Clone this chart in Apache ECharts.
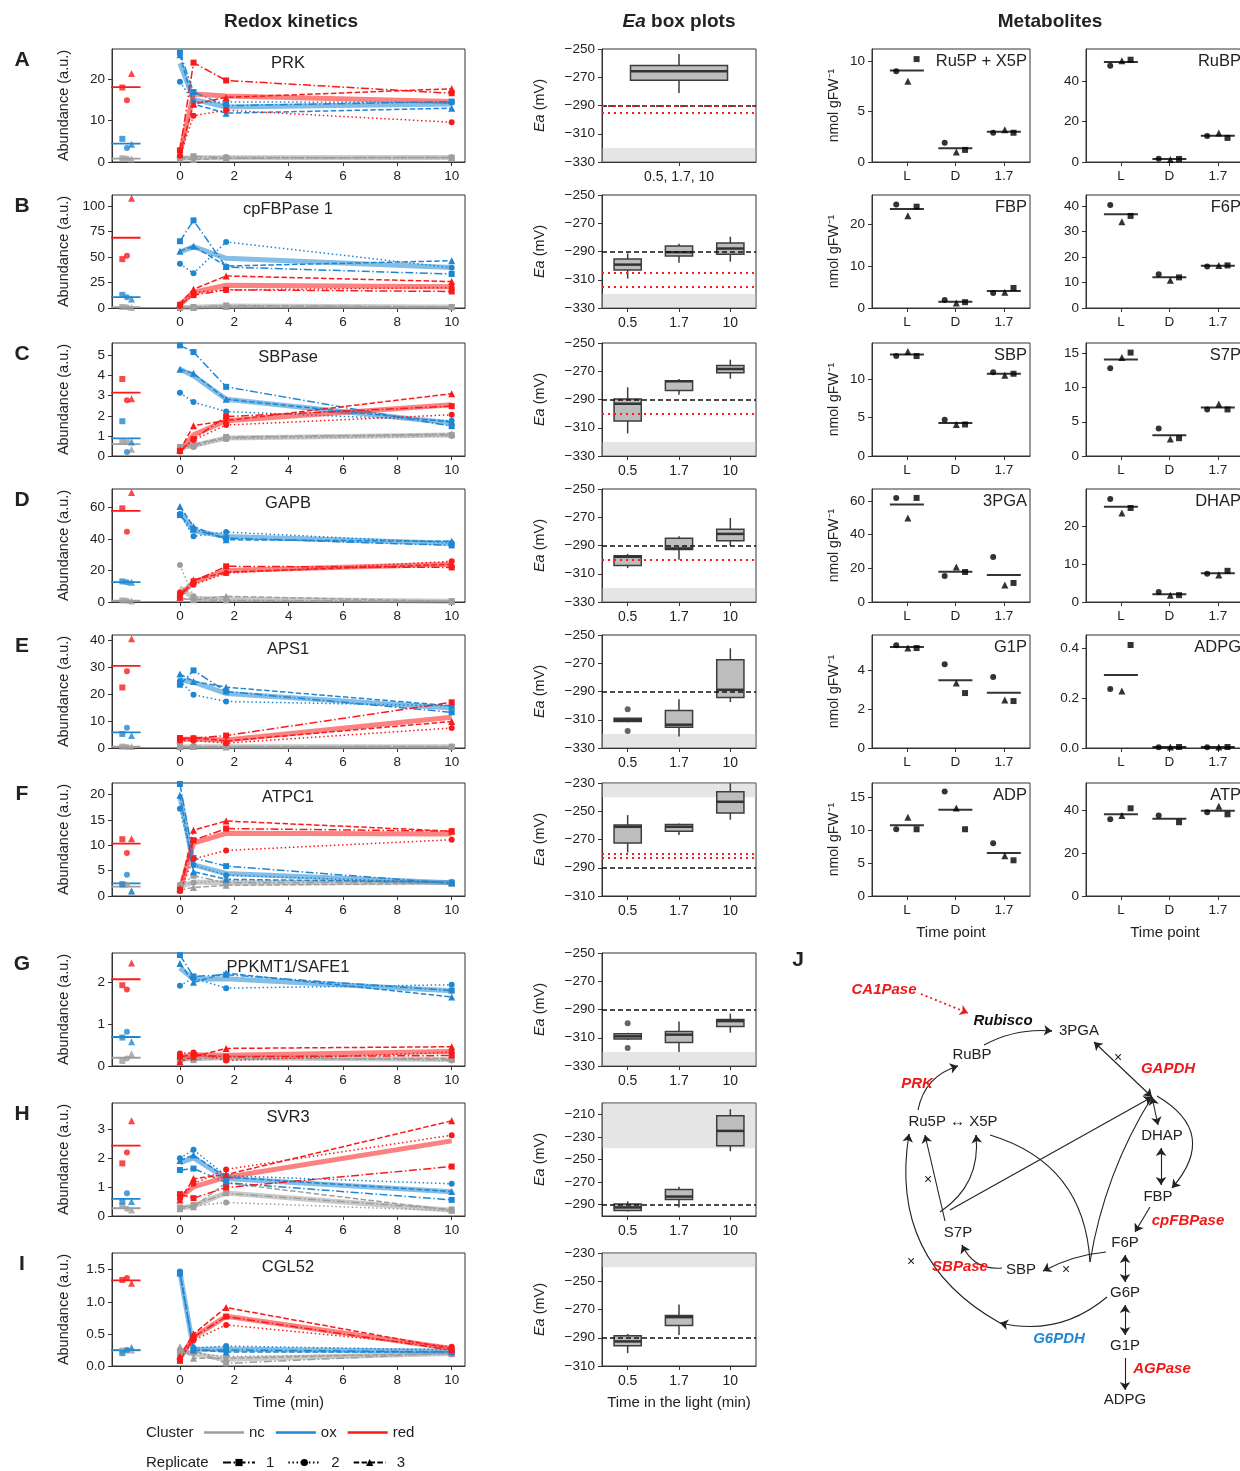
<!DOCTYPE html>
<html><head><meta charset="utf-8">
<script src="https://cdn.jsdelivr.net/npm/echarts@6/dist/echarts.min.js"></script>
<style>html,body{margin:0;padding:0;background:#fff}#c{width:1240px;height:1471px}</style>
</head><body><div id="c"></div>
<script>
const FONT = "'Liberation Sans', Arial, Helvetica, sans-serif";

// ---------------- Redox kinetics data: each replicate = [dark, 0, 0.5, 1.7, 10 min]
const LIGHT_T = [0, 0.5, 1.7, 10];
const CLUSTERS = ['nc', 'ox', 'red'];

const prk_nc  = [[0.9,1.0,1.4,1.0,1.1],[0.8,0.9,1.0,1.2,1.0],[0.7,0.8,0.6,0.9,1.1]];
const prk_ox  = [[5.6,26.4,16.9,13.6,14.6],[3.4,19.4,14.5,14.5,14.4],[4.3,25.9,14.0,11.8,13.0]];
const prk_red = [[18.0,2.8,24.0,19.7,16.6],[14.9,1.5,11.2,12.5,9.6],[21.4,2.0,14.0,15.6,17.7]];

const fbp1_nc  = [[1.0,0.5,1.0,2.5,1.0],[0.8,0.6,0.8,2.0,0.9],[0.5,0.4,0.5,1.5,1.2]];
const fbp1_ox  = [[12.9,65.4,85.8,40.1,33.3],[10.5,43.4,34.0,64.7,39.5],[8.7,55.7,60.5,41.1,46.3]];
const fbp1_red = [[47.9,3.0,12.6,17.8,16.2],[51.1,2.0,15.2,17.7,20.0],[107.4,4.0,18.4,31.4,25.9]];

const sbp_nc  = [[0.70,0.45,0.50,0.95,1.05],[0.73,0.40,0.45,0.85,1.00],[0.34,0.35,0.60,0.90,1.10]];
const sbp_ox  = [[1.73,5.50,5.17,3.44,1.48],[0.20,3.14,2.68,2.21,1.75],[0.70,4.31,4.11,2.82,1.68]];
const sbp_red = [[3.83,0.25,0.84,1.96,2.48],[2.77,0.22,0.80,1.54,2.05],[2.85,0.30,1.51,1.76,3.10]];

const gapb_nc  = [[1.0,2.0,1.5,1.0,0.5],[0.8,23.5,3.6,1.2,0.6],[0.6,2.5,1.5,3.6,0.4]];
const gapb_ox  = [[13.1,55.3,46.0,40.7,36.0],[12.5,56.0,41.8,44.5,37.5],[12.5,60.8,48.1,39.6,38.6]];
const gapb_red = [[59.6,4.0,13.1,22.7,22.0],[44.7,6.0,11.0,18.4,25.9],[69.7,3.0,14.0,19.0,24.0]];

const aps1_nc  = [[0.5,0.4,0.5,0.6,0.5],[0.4,0.3,0.4,0.5,0.4],[0.6,0.5,0.6,0.4,0.6]];
const aps1_ox  = [[5.2,23.4,28.7,20.9,13.2],[7.5,24.8,19.7,17.2,15.6],[4.6,27.4,24.6,22.5,15.6]];
const aps1_red = [[22.4,3.7,3.6,4.6,16.9],[28.4,2.8,2.7,1.8,7.4],[40.4,3.0,3.8,2.6,9.8]];

const atpc1_nc  = [[2.3,2.0,4.0,2.6,2.7],[2.2,2.2,2.6,3.0,2.8],[1.0,1.2,1.7,2.1,2.5]];
const atpc1_ox  = [[2.3,22.1,7.5,5.9,2.5],[4.2,17.2,6.1,4.1,2.6],[1.0,19.9,4.8,3.3,2.7]];
const atpc1_red = [[11.2,1.2,11.0,13.3,12.8],[8.5,1.0,7.3,9.0,11.1],[11.3,1.5,13.0,14.8,12.8]];

const ppkmt_nc  = [[0.12,0.15,0.14,0.20,0.15],[0.18,0.20,0.18,0.22,0.13],[0.29,0.15,0.20,0.17,0.18]];
const ppkmt_ox  = [[0.68,2.65,2.14,2.18,1.80],[0.82,1.92,2.10,1.86,1.94],[0.58,2.45,2.00,2.22,1.65]];
const ppkmt_red = [[1.93,0.22,0.27,0.22,0.25],[1.83,0.30,0.32,0.13,0.33],[2.46,0.10,0.22,0.42,0.46]];

const svr3_nc  = [[0.35,0.30,0.38,0.79,0.23],[0.25,0.28,0.35,0.47,0.18],[0.21,0.25,0.32,1.15,0.20]];
const svr3_ox  = [[0.50,1.60,1.65,1.16,0.56],[0.79,2.01,2.30,1.40,1.12],[0.50,1.93,2.12,1.35,0.85]];
const svr3_red = [[1.83,0.76,0.62,0.99,1.72],[2.21,0.60,1.12,1.62,2.81],[3.31,0.56,1.30,1.44,3.31]];

const cgl52_nc  = [[0.24,0.20,0.25,0.04,0.20],[0.24,0.25,0.20,0.15,0.18],[0.25,0.30,0.12,0.12,0.20]];
const cgl52_ox  = [[0.20,1.45,0.25,0.25,0.22],[0.25,1.47,0.28,0.31,0.25],[0.29,1.45,0.25,0.22,0.22]];
const cgl52_red = [[1.34,0.08,0.45,0.77,0.25],[1.37,0.12,0.40,0.64,0.30],[1.29,0.15,0.50,0.91,0.27]];

const KIN_NAMES   = ['PRK','cpFBPase 1','SBPase','GAPB','APS1','ATPC1','PPKMT1/SAFE1','SVR3','CGL52'];
const KIN_LETTERS = ['A','B','C','D','E','F','G','H','I'];
const KIN_DATA = [
  {nc:prk_nc, ox:prk_ox, red:prk_red}, {nc:fbp1_nc, ox:fbp1_ox, red:fbp1_red},
  {nc:sbp_nc, ox:sbp_ox, red:sbp_red}, {nc:gapb_nc, ox:gapb_ox, red:gapb_red},
  {nc:aps1_nc, ox:aps1_ox, red:aps1_red}, {nc:atpc1_nc, ox:atpc1_ox, red:atpc1_red},
  {nc:ppkmt_nc, ox:ppkmt_ox, red:ppkmt_red}, {nc:svr3_nc, ox:svr3_ox, red:svr3_red},
  {nc:cgl52_nc, ox:cgl52_ox, red:cgl52_red}
];
const KIN_YMAX   = [27.3, 110.7, 5.62, 71.9, 41.8, 22.3, 2.70, 3.93, 1.76];
const KIN_YTICKS = [[0,10,20],[0,25,50,75,100],[0,1,2,3,4,5],[0,20,40,60],[0,10,20,30,40],[0,5,10,15,20],[0,1,2],[0,1,2,3],[0,0.5,1,1.5]];
const KIN_XTICKS = [0,2,4,6,8,10];

// ---------------- Ea box plots: [min, Q1, median, Q3, max]
const box_prk   = [[-281.1,-272.2,-265.8,-261.6,-253.5]];
const box_fbp1  = [[-309.2,-303.1,-299.3,-295.3,-291.3],[-297.9,-293.2,-290.5,-286.1,-284.5],[-297.2,-292.0,-287.9,-284.0,-279.5]];
const box_sbp   = [[-314.0,-305.2,-293.0,-289.6,-281.4],[-286.6,-283.7,-277.1,-276.7,-275.5],[-275.3,-271.0,-268.4,-266.0,-261.8]];
const box_gapb  = [[-306.0,-304.1,-298.0,-297.3,-295.9],[-300.1,-292.8,-292.1,-284.8,-283.4],[-290.2,-286.7,-281.8,-278.5,-270.5]];
const box_aps1  = [[-311.8,-311.3,-310.3,-309.0,-308.7],[-321.8,-315.3,-313.5,-303.4,-295.4],[-297.5,-294.2,-288.8,-267.6,-259.4]];
const box_atpc1 = [[-279.2,-272.4,-261.0,-259.8,-252.7],[-266.9,-264.1,-261.0,-259.3,-258.6],[-256.0,-251.3,-243.3,-236.2,-230.2]];
const box_ppkmt = [[-311.5,-310.9,-309.0,-307.1,-306.5],[-320.0,-313.3,-307.8,-305.5,-298.5],[-306.4,-302.0,-298.2,-297.0,-293.0]];
const box_svr3  = [[-296.0,-295.1,-292.4,-289.4,-287.0],[-292.4,-285.5,-282.8,-276.5,-274.1],[-242.7,-237.9,-224.7,-211.2,-205.5]];
const box_cgl52 = [[-300.9,-295.7,-292.6,-288.5,-287.3],[-288.0,-281.3,-275.4,-274.2,-266.5]];
const BOX_STATS  = [box_prk, box_fbp1, box_sbp, box_gapb, box_aps1, box_atpc1, box_ppkmt, box_svr3, box_cgl52];
const BOX_FLIERS = [[],[],[],[],[[0,-302.6],[0,-318.0]],[],[[0,-299.7],[0,-317.3]],[],[]];
const TIME_CATS = ['0.5','1.7','10'];
const BOX_CATS = [['0.5, 1.7, 10'], TIME_CATS, TIME_CATS, TIME_CATS, TIME_CATS, TIME_CATS, TIME_CATS, TIME_CATS, TIME_CATS];
const BOX_RANGE = [[-330,-250],[-330,-250],[-330,-250],[-330,-250],[-330,-250],[-310,-230],[-330,-250],[-300,-200],[-310,-230]];
const BOX_TICKS = [[-330,-310,-290,-270,-250],[-330,-310,-290,-270,-250],[-330,-310,-290,-270,-250],[-330,-310,-290,-270,-250],[-330,-310,-290,-270,-250],[-310,-290,-270,-250,-230],[-330,-310,-290,-270,-250],[-290,-270,-250,-230,-210],[-310,-290,-270,-250,-230]];
const BOX_REF_BLACK = -290;
const BOX_REF_RED = [[-290,-295],[-305,-315],[-300],[-300],[],[-280,-283],[],[],[]];
const BOX_BAND = [[-330,-320],[-330,-320],[-330,-320],[-330,-320],[-330,-320],[-240,-230],[-330,-320],[-240,-200],[-240,-230]];

// ---------------- Metabolites: rows = replicate 1 (square), 2 (circle), 3 (triangle); cols = L, D, 1.7
const MET_CATS = ['L','D','1.7'];
const m_ru5p = [[10.2,1.2,2.9],[9.0,1.9,2.9],[8.0,1.0,3.2]];
const m_rubp = [[50.5,1.5,11.9],[47.5,1.6,12.8],[50.0,1.2,14.3]];
const m_fbp  = [[24.3,1.4,4.8],[24.8,1.9,3.6],[22.1,1.2,3.8]];
const m_f6p  = [[36.1,12.0,16.7],[40.4,13.2,16.3],[33.8,10.9,16.7]];
const m_sbp  = [[13.0,4.1,10.7],[13.0,4.7,10.9],[13.6,4.1,10.5]];
const m_s7p  = [[15.1,2.6,6.8],[12.8,4.0,6.8],[14.4,2.5,7.6]];
const m_3pga = [[61.8,17.8,11.3],[61.8,15.4,26.7],[49.9,20.8,10.1]];
const m_dhap = [[24.7,1.8,8.2],[27.1,2.6,7.4],[23.4,1.8,7.1]];
const m_g1p  = [[5.13,2.82,2.41],[5.28,4.30,3.64],[5.13,3.33,2.46]];
const m_adpg = [[0.412,0.004,0.004],[0.236,0.003,0.003],[0.228,0.004,0.004]];
const m_adp  = [[10.1,10.1,5.4],[10.1,15.8,8.0],[11.9,13.3,6.1]];
const m_atp  = [[40.9,34.4,38.1],[35.8,37.6,39.1],[37.6,null,41.9]];
const MET_NAMES = ['Ru5P + X5P','RuBP','FBP','F6P','SBP','S7P','3PGA','DHAP','G1P','ADPG','ADP','ATP'];
const MET_DATA  = [m_ru5p, m_rubp, m_fbp, m_f6p, m_sbp, m_s7p, m_3pga, m_dhap, m_g1p, m_adpg, m_adp, m_atp];
const MET_YMAX  = [11.2, 55.8, 27.1, 44.3, 14.7, 16.5, 67.1, 29.7, 5.8, 0.452, 17.1, 52.7];
const MET_YTICKS = [[0,5,10],[0,20,40],[0,10,20],[0,10,20,30,40],[0,5,10],[0,5,10,15],[0,20,40,60],[0,10,20],[0,2,4],[0,0.2,0.4],[0,5,10,15],[0,20,40]];

// ---------------- Pathway (J)
const PATH_METABOLITES = ['3PGA','RuBP','Ru5P ↔ X5P','DHAP','FBP','S7P','F6P','SBP','G6P','G1P','ADPG'];
const PATH_ENZ_RED = ['CA1Pase','PRK','GAPDH','cpFBPase','SBPase','AGPase'];
const PATH_ENZ_BLUE = ['G6PDH'];
const PATH_ENZ_BLACK = ['Rubisco'];
const PATH_LINKS = [
  ['ca_s','ca_e','end',0,'reg'],
  ['rubp_r','pga_l','end',0.15],
  ['j1','pga_br','both',0],
  ['j1','dhap_t','both',0],
  ['dhap_b','fbp_t','both',0],
  ['j1r','fbp_r','end',0.6],
  ['fbp_bl','f6p_tr','end',0],
  ['f6p_l','sbp_r','end',-0.1],
  ['sbp_l','s7p_b','end',0.35],
  ['f6p_b','g6p_t','both',0],
  ['g6p_b','g1p_t','both',0],
  ['g1p_b','adpg_t','end',0],
  ['g6p_l','g_mid','end',0.25],
  ['g_mid','ru5p_b','end',0.35],
  ['ru5p_t','rubp_l','end',0.3],
  ['s7p_t','ru5p_b2','end',0],
  ['s7p_tr','j1','end',0],
  ['s7p_l2','x5p_b','end',-0.3],
  ['x5p_r','f6p_lb','none',0.35],
  ['j1','f6p_lb','none',-0.1]
];
const PATH_CROSSES = ['x_pga','x_sbp','x_ru5p','x_s7p'];

// ---------------- layout (positions / sizes)
const KIN_TOP = [49,195,343,489,635,783,953,1103,1253];
const PANEL_H = 113;
const KX_MIN = -2.5, KX_MAX = 10.49;
const DARK_X = [-2.12,-1.95,-1.78];
const DARK_MEAN_X = [-2.62,-1.45];
const MX_MIN = -0.72, MX_MAX = 2.54;
const MET_JIT = [0.2,-0.22,0.02];
const MET_LEFT = [872, 1086];
const PATH_POS = {
  'CA1Pase':[884,990],'Rubisco':[1003,1021],'3PGA':[1079,1031],'RuBP':[972,1055],'GAPDH':[1168,1069],
  'PRK':[917,1084],'Ru5P ↔ X5P':[953,1122],'DHAP':[1162,1136],'FBP':[1158,1197],'cpFBPase':[1188,1221],
  'S7P':[958,1233],'F6P':[1125,1243],'SBPase':[960,1267],'SBP':[1021,1270],'G6P':[1125,1293],
  'G6PDH':[1059,1339],'G1P':[1125,1346],'AGPase':[1162,1369],'ADPG':[1125,1400]
};
const PATH_ANCHORS = {
  ca_s:[921,994], ca_e:[968,1013], rubp_r:[984,1045], pga_l:[1052,1031],
  pga_br:[1094,1042], j1:[1152,1097], dhap_t:[1158,1125], dhap_b:[1161,1148], fbp_t:[1161,1185],
  j1r:[1157,1096], fbp_r:[1172,1188], fbp_bl:[1150,1207], f6p_tr:[1135,1232],
  f6p_l:[1106,1252], sbp_r:[1043,1271], sbp_l:[1002,1268], s7p_b:[962,1245],
  f6p_b:[1125,1255], g6p_t:[1125,1282], g6p_b:[1125,1305], g1p_t:[1125,1335],
  g1p_b:[1125,1358], adpg_t:[1125,1390], g6p_l:[1107,1297], g_mid:[1000,1323],
  ru5p_b:[909,1134], ru5p_t:[918,1110], rubp_l:[958,1066], s7p_t:[945,1221], ru5p_b2:[925,1135],
  s7p_tr:[950,1210], x5p_b:[976,1135], s7p_l2:[940,1212], x5p_r:[990,1135], f6p_lb:[1090,1262],
  x_pga:[1118,1058], x_sbp:[1066,1270], x_ru5p:[911,1262], x_s7p:[928,1180]
};

const COLORS = {nc:'#9e9e9e', ox:'#1f87d2', red:'#fa1a1a'};
const REP_DASH = [[8,2.5,1.5,2.5],[1.5,2.6],[5.5,2.4]];
const REP_SYMBOL = ['rect','circle','triangle'];
const REP_SIZE = [6,6,7];
const BOX_FILL = '#bdbdbd', BOX_EDGE = '#3d3d3d';

function mean(a){const v=a.filter(x=>x!=null);return v.reduce((s,x)=>s+x,0)/v.length;}
const TXT = '#222', AX = '#333';

const grid=[], xAxis=[], yAxis=[], series=[], graphic=[];

function addGrid(left, top, width, height){
  grid.push({left, top, width, height, show:true, borderColor:AX, borderWidth:1, backgroundColor:'rgba(0,0,0,0)', outerBoundsMode:'none', containLabel:false});
  return grid.length-1;
}
function valAxis(gi, min, max, ticks, fmt, extra){
  return Object.assign({
    type:'value', gridIndex:gi, min, max, scale:false,
    splitLine:{show:false},
    axisLine:{show:true, onZero:false, lineStyle:{color:AX, width:1}},
    axisTick:{show:true, customValues:ticks, length:4, lineStyle:{color:AX}},
    axisLabel:{show:true, customValues:ticks, formatter:fmt, fontSize:13.5, color:TXT, fontFamily:FONT, margin:7}
  }, extra||{});
}
function text(x, y, str, size, opts){
  opts = opts||{};
  graphic.push({type:'text', x, y, silent:true, z:100, style:Object.assign({
    text:str, fill:opts.color||TXT,
    font:(opts.style||'normal')+' '+(opts.weight||'normal')+' '+size+'px '+FONT,
    align:opts.align||'center', textAlign:opts.align||'center',
    verticalAlign:'middle', textVerticalAlign:'middle'
  }, opts.rich?{rich:opts.rich}:{})});
}

// section titles
text(291, 22, 'Redox kinetics', 19, {weight:'bold'});
text(679, 22, '{i|Ea} box plots', 19, {weight:'bold', rich:{i:{fontStyle:'italic', fontWeight:'bold', fontSize:19, fontFamily:FONT, fill:TXT}}});
text(1050, 22, 'Metabolites', 19, {weight:'bold'});

// ---------- kinetics
KIN_DATA.forEach((P,k)=>{
  const gi = addGrid(112, KIN_TOP[k], 353, PANEL_H);
  const fmtY = k===8 ? (v=>v.toFixed(1)) : (v=>String(v));
  xAxis.push(valAxis(gi, KX_MIN, KX_MAX, KIN_XTICKS, v=>String(v), k===8?{name:'Time (min)', nameLocation:'middle', nameGap:29, nameTextStyle:{fontSize:15, color:TXT, fontFamily:FONT}}:{}));
  yAxis.push(valAxis(gi, 0, KIN_YMAX[k], KIN_YTICKS[k], fmtY, {name:'Abundance (a.u.)', nameLocation:'middle', nameRotate:90, nameGap:41, nameTextStyle:{fontSize:14.5, color:TXT, fontFamily:FONT}}));
  CLUSTERS.forEach(c=>{
    const reps = P[c], col = COLORS[c];
    series.push({type:'line', xAxisIndex:gi, yAxisIndex:gi, silent:true, z:2,
      data: LIGHT_T.map((t,i)=>[t, mean(reps.map(r=>r[i+1]))]),
      symbol:'none', lineStyle:{color:col, width:5, opacity:0.55}});
    const md = mean(reps.map(r=>r[0]));
    series.push({type:'line', xAxisIndex:gi, yAxisIndex:gi, silent:true, z:3, clip:false,
      data: DARK_MEAN_X.map(x=>[x, md]), symbol:'none', lineStyle:{color:col, width:1.8}});
    reps.forEach((r,ri)=>{
      series.push({type:'line', xAxisIndex:gi, yAxisIndex:gi, silent:true, z:3,
        data: LIGHT_T.map((t,i)=>[t, r[i+1]]), showSymbol:true, symbol:REP_SYMBOL[ri], symbolSize:REP_SIZE[ri],
        itemStyle:{color:col}, lineStyle:{color:col, width:1.5, type:REP_DASH[ri]}});
      series.push({type:'scatter', xAxisIndex:gi, yAxisIndex:gi, silent:true, z:3, clip:false,
        data:[[DARK_X[ri], r[0]]], symbol:REP_SYMBOL[ri], symbolSize:REP_SIZE[ri], itemStyle:{color:col}});
    });
  });
  text(288, KIN_TOP[k]+14, KIN_NAMES[k], 16.5);
  text(22, KIN_TOP[k]+11, KIN_LETTERS[k], 21, {weight:'bold'});
});

// ---------- box plots (custom series: box, whiskers without caps, median)
function boxRender(frac){
  return function(params, api){
    const x = api.value(0);
    const pLo = api.coord([x, api.value(1)]), pQ1 = api.coord([x, api.value(2)]), pMed = api.coord([x, api.value(3)]);
    const pQ3 = api.coord([x, api.value(4)]), pHi = api.coord([x, api.value(5)]);
    const bw = api.size([1,0])[0]*frac, cx = pLo[0];
    const edge = {stroke:BOX_EDGE, lineWidth:1.5};
    return {type:'group', children:[
      {type:'line', shape:{x1:cx,y1:pLo[1],x2:cx,y2:pQ1[1]}, style:edge},
      {type:'line', shape:{x1:cx,y1:pQ3[1],x2:cx,y2:pHi[1]}, style:edge},
      {type:'rect', shape:{x:cx-bw/2, y:pQ3[1], width:bw, height:pQ1[1]-pQ3[1]}, style:{fill:BOX_FILL, stroke:BOX_EDGE, lineWidth:1.5}},
      {type:'line', shape:{x1:cx-bw/2,y1:pMed[1],x2:cx+bw/2,y2:pMed[1]}, style:{stroke:'#333', lineWidth:2.5}}
    ]};
  };
}
BOX_STATS.forEach((stats,k)=>{
  const gi = addGrid(602, KIN_TOP[k], 154, PANEL_H);
  xAxis.push(Object.assign({type:'category', gridIndex:gi, data:BOX_CATS[k], boundaryGap:true,
    axisLine:{show:true, onZero:false, lineStyle:{color:AX}}, axisTick:{show:true, alignWithLabel:true, length:4, lineStyle:{color:AX}},
    axisLabel:{fontSize:14, color:TXT, fontFamily:FONT, margin:8}, splitLine:{show:false}},
    k===8?{name:'Time in the light (min)', nameLocation:'middle', nameGap:29, nameTextStyle:{fontSize:15, color:TXT, fontFamily:FONT}}:{}));
  yAxis.push(valAxis(gi, BOX_RANGE[k][0], BOX_RANGE[k][1], BOX_TICKS[k], v=>String(v).replace('-','\u2212'),
    {name:'{i|Ea} (mV)', nameLocation:'middle', nameRotate:90, nameGap:55,
     nameTextStyle:{fontSize:14.5, color:TXT, fontFamily:FONT, rich:{i:{fontStyle:'italic', fontSize:14.5, color:TXT, fontFamily:FONT}}}}));
  const frac = BOX_CATS[k].length===1 ? 0.63 : 0.53;
  series.push({type:'custom', xAxisIndex:gi, yAxisIndex:gi, silent:true, z:3,
    data: stats.map((s,i)=>[i].concat(s)), encode:{x:0, y:[1,2,3,4,5]}, renderItem:boxRender(frac)});
  if (BOX_FLIERS[k].length) series.push({type:'scatter', xAxisIndex:gi, yAxisIndex:gi, silent:true, z:4,
    data:BOX_FLIERS[k], symbol:'circle', symbolSize:6, itemStyle:{color:BOX_EDGE}});
  const lines = [{yAxis:BOX_REF_BLACK, lineStyle:{color:'#111', type:[5,3], width:1.5}}]
    .concat(BOX_REF_RED[k].map(v=>({yAxis:v, lineStyle:{color:'#ff1a1a', type:[2,4], width:2}})));
  series.push({type:'line', xAxisIndex:gi, yAxisIndex:gi, silent:true, z:6, data:[],
    markArea:{silent:true, itemStyle:{color:'rgba(190,190,190,0.4)'}, data:[[{yAxis:BOX_BAND[k][0]},{yAxis:BOX_BAND[k][1]}]]},
    markLine:{silent:true, symbol:['none','none'], label:{show:false}, data:lines}});
});

// ---------- metabolites
MET_DATA.forEach((M,i)=>{
  const row = Math.floor(i/2), col = i%2;
  const gi = addGrid(MET_LEFT[col], KIN_TOP[row], 158, PANEL_H);
  const last = row===5;
  xAxis.push(valAxis(gi, MX_MIN, MX_MAX, [0,1,2], v=>MET_CATS[v], last?{name:'Time point', nameLocation:'middle', nameGap:29, nameTextStyle:{fontSize:15, color:TXT, fontFamily:FONT}}:{}));
  const fmt = i===9 ? (v=>v.toFixed(1)) : (v=>String(v));
  yAxis.push(valAxis(gi, 0, MET_YMAX[i], MET_YTICKS[i], fmt, col===0?{name:'nmol gFW\u207B\u00B9', nameLocation:'middle', nameRotate:90, nameGap:31, nameTextStyle:{fontSize:14, color:TXT, fontFamily:FONT}}:{}));
  M.forEach((rep,ri)=>{
    series.push({type:'scatter', xAxisIndex:gi, yAxisIndex:gi, silent:true, z:4,
      data: rep.map((v,ci)=>v==null?null:[ci+MET_JIT[ri], v]).filter(d=>d),
      symbol:REP_SYMBOL[ri], symbolSize:REP_SIZE[ri], itemStyle:{color:'#000'}});
  });
  series.push({type:'scatter', xAxisIndex:gi, yAxisIndex:gi, silent:true, z:3,
    data: MET_CATS.map((_,ci)=>[ci, mean(M.map(r=>r[ci]))]), symbol:'rect', symbolSize:[34,2], itemStyle:{color:'#000'}});
  text(MET_LEFT[col]+155, KIN_TOP[row]+12, MET_NAMES[i], 16.5, {align:'right'});
});

// ---------- pathway J (graph)
const gNodes = [{name:'__tl', x:790, y:960, symbolSize:0}, {name:'__br', x:1240, y:1440, symbolSize:0}];
function lbl(color, bold){return {show:true, position:'inside', fontSize:15, color, fontFamily:FONT, fontWeight:bold?'bold':'normal', fontStyle:bold?'italic':'normal'};}
PATH_METABOLITES.forEach(n=>gNodes.push({name:n, x:PATH_POS[n][0], y:PATH_POS[n][1], symbolSize:0, label:lbl('#222',false)}));
PATH_ENZ_RED.forEach(n=>gNodes.push({name:n, x:PATH_POS[n][0], y:PATH_POS[n][1], symbolSize:0, label:lbl('#f01818',true)}));
PATH_ENZ_BLUE.forEach(n=>gNodes.push({name:n, x:PATH_POS[n][0], y:PATH_POS[n][1], symbolSize:0, label:lbl('#1f87d2',true)}));
PATH_ENZ_BLACK.forEach(n=>gNodes.push({name:n, x:PATH_POS[n][0], y:PATH_POS[n][1], symbolSize:0, label:lbl('#111',true)}));
Object.keys(PATH_ANCHORS).forEach(a=>{
  const isX = PATH_CROSSES.indexOf(a)>=0;
  gNodes.push({name:a, x:PATH_ANCHORS[a][0], y:PATH_ANCHORS[a][1], symbolSize:0,
    label: isX ? {show:true, position:'inside', formatter:'\u00D7', fontSize:14, color:'#222', fontFamily:FONT} : {show:false}});
});
const gLinks = [];
PATH_LINKS.forEach(([s,t,arr,cv,kind])=>{
  const ls = kind==='reg' ? {color:'#f01818', type:[2,3], width:1.8, opacity:1} : {color:'#222', width:1.1, opacity:1};
  if (cv && arr!=='none') {
    // curved edge drawn in full, arrowhead added as a short straight edge along the end tangent
    const p1 = PATH_ANCHORS[s], p2 = PATH_ANCHORS[t];
    const cp = [(p1[0]+p2[0])/2 - (p1[1]-p2[1])*cv, (p1[1]+p2[1])/2 - (p2[0]-p1[0])*cv];
    const dx = p2[0]-cp[0], dy = p2[1]-cp[1], L = Math.hypot(dx,dy)||1;
    const tail = s+'_'+t+'_tail';
    gNodes.push({name:tail, x:p2[0]-dx/L*4, y:p2[1]-dy/L*4, symbolSize:0, label:{show:false}});
    gLinks.push({source:s, target:t, symbol:['none','none'], lineStyle:Object.assign({curveness:cv}, ls)});
    gLinks.push({source:tail, target:t, symbol:['none','arrow'], symbolSize:[8,8], lineStyle:Object.assign({curveness:0}, ls)});
  } else {
    gLinks.push({source:s, target:t,
      symbol: arr==='both'?['arrow','arrow']:(arr==='end'?['none','arrow']:['none','none']),
      symbolSize:[8,8], lineStyle:Object.assign({curveness:cv}, ls)});
  }
});
series.push({type:'graph', layout:'none', left:790, top:960, width:450, height:480, roam:false, silent:true, z:5,
  data:gNodes, links:gLinks, symbolSize:0, label:{show:false}, lineStyle:{color:'#222', width:1.1, opacity:1}});
text(798, 960, 'J', 21, {weight:'bold'});

// ---------- legend (dummy series)
CLUSTERS.forEach(c=>series.push({type:'line', name:c, xAxisIndex:0, yAxisIndex:0, data:[], symbol:'none', itemStyle:{color:COLORS[c]}, lineStyle:{color:COLORS[c], width:2}}));
['1','2','3'].forEach((n,ri)=>series.push({type:'line', name:n, xAxisIndex:0, yAxisIndex:0, data:[], symbol:REP_SYMBOL[ri], symbolSize:REP_SIZE[ri], itemStyle:{color:'#000'}, lineStyle:{color:'#000', width:1.5, type:REP_DASH[ri]}}));
text(146, 1433, 'Cluster', 15, {align:'left'});
text(146, 1463, 'Replicate', 15, {align:'left'});

const option = {
  animation:false, backgroundColor:'#fff', textStyle:{fontFamily:FONT},
  grid, xAxis, yAxis, series, graphic,
  legend:[
    {data:CLUSTERS.map(c=>({name:c, icon:'rect'})), left:204, top:1425, padding:0, itemWidth:40, itemHeight:2.5, itemGap:11, selectedMode:false, textStyle:{fontSize:15, color:TXT, fontFamily:FONT}},
    {data:['1','2','3'], left:222, top:1455, padding:0, itemWidth:32, itemHeight:9, itemGap:13, selectedMode:false, textStyle:{fontSize:15, color:TXT, fontFamily:FONT, padding:[0,0,0,6]}}
  ]
};
const chart = echarts.init(document.getElementById('c'), null, {renderer:'canvas', width:1240, height:1471});
chart.setOption(option);
</script></body></html>
